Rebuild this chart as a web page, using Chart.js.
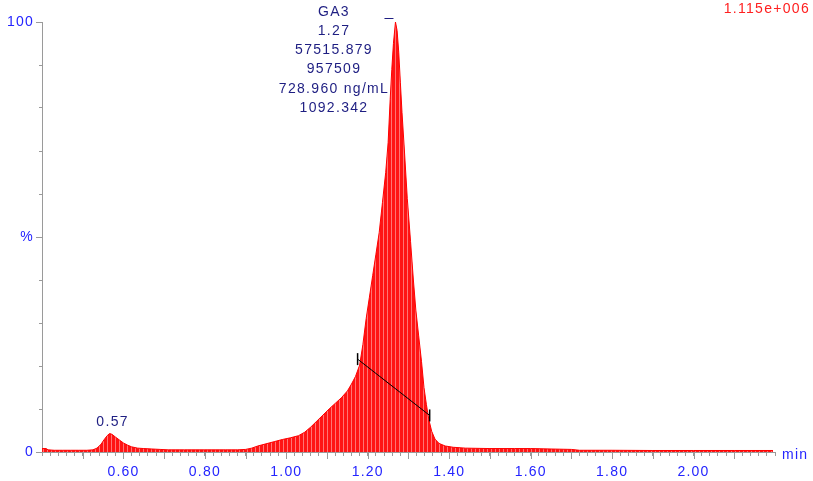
<!DOCTYPE html>
<html>
<head>
<meta charset="utf-8">
<script src="https://cdn.jsdelivr.net/npm/chart.js@4/dist/chart.umd.min.js"></script>
<style>
  html, body { margin: 0; padding: 0; background: #fff; }
</style>
</head>
<body>
<canvas id="chrom" width="813" height="481"></canvas>
<script>
// retention time (min) and relative intensity (%)
const TIMES = [
  0.400, 0.410, 0.415, 0.430, 0.450, 0.470, 0.490, 0.510, 0.525, 0.535,
  0.545, 0.552, 0.560, 0.566, 0.572, 0.580, 0.590, 0.600, 0.610, 0.620,
  0.635, 0.650, 0.670, 0.690, 0.710, 0.750, 0.800, 0.850, 0.880, 0.900,
  0.915, 0.930, 0.950, 0.970, 0.990, 1.010, 1.030, 1.045, 1.060, 1.075,
  1.090, 1.105, 1.120, 1.135, 1.150, 1.160, 1.170, 1.180, 1.188, 1.196,
  1.204, 1.212, 1.220, 1.228, 1.236, 1.244, 1.250, 1.255, 1.259, 1.263,
  1.268, 1.272, 1.276, 1.280, 1.284, 1.290, 1.297, 1.305, 1.312, 1.318,
  1.325, 1.332, 1.338, 1.344, 1.350, 1.357, 1.365, 1.375, 1.390, 1.410,
  1.440, 1.500, 1.560, 1.600, 1.650, 1.700, 1.720, 1.800, 1.900, 2.000,
  2.100, 2.195,
];
const INTENSITY = [
  0.8, 0.8, 0.5, 0.4, 0.4, 0.4, 0.4, 0.4, 0.5, 0.9,
  1.8, 2.8, 3.8, 4.3, 4.1, 3.5, 2.8, 2.1, 1.6, 1.2,
  0.9, 0.8, 0.7, 0.6, 0.5, 0.5, 0.5, 0.5, 0.5, 0.6,
  0.9, 1.4, 1.9, 2.4, 2.9, 3.3, 3.8, 4.6, 5.8, 7.2,
  8.6, 10.0, 11.3, 12.6, 14.2, 15.8, 17.6, 20.2, 25.0, 31.0,
  36.0, 41.0, 46.0, 51.0, 58.0, 65.0, 72.0, 82.0, 89.0, 95.0,
  100, 98, 93, 86, 79, 70, 59, 49, 40, 33,
  27, 21, 15, 11, 7.5, 4.8, 3.0, 2.0, 1.4, 1.1,
  0.9, 0.8, 0.8, 0.8, 0.7, 0.6, 0.4, 0.4, 0.35, 0.35,
  0.35, 0.35,
];

// integration baseline drawn under the main peak
const BASE_TIMES = [1.175, 1.352];
const BASE_LEVELS = [21.6, 8.5];

const PEAK_TIME = 1.268;
const PEAK_LABELS = ['GA3', '1.27', '57515.879', '957509', '728.960 ng/mL', '1092.342'];
const SMALL_PEAK = { time: 0.566, level: 4.3, label: '0.57' };
const X_LABELS = [0.6, 0.8, 1.0, 1.2, 1.4, 1.6, 1.8, 2.0];
const Y_LABELS = { 0: '0', 50: '%', 100: '100' };
const FULL_SCALE = '1.115e+006';

const BLUE = '#2424ff';
const NAVY = '#1e1e82';
const AXIS = '#9a9a9a';
const FONT = '14px "Liberation Sans", Arial, sans-serif';

function stripes(ctx) {
  const c = document.createElement('canvas');
  c.width = 4;
  c.height = 1;
  const g = c.getContext('2d');
  g.fillStyle = '#ff1414';
  g.fillRect(0, 0, 3, 1);
  g.fillStyle = '#ff7474';
  g.fillRect(3, 0, 1, 1);
  return ctx.createPattern(c, 'repeat');
}

const spacingPlugin = {
  id: 'spacing',
  beforeDraw(chart) {
    chart.ctx.letterSpacing = '1.2px';
  },
};

const marksPlugin = {
  id: 'marks',
  afterDraw(chart) {
    const { ctx, chartArea } = chart;
    const xs = chart.scales.x;
    const ys = chart.scales.y;
    ctx.save();
    ctx.strokeStyle = AXIS;
    ctx.lineWidth = 1;
    // longer ticks on every 0.1 min
    for (let t = 0.5; t < 2.2; t += 0.1) {
      const px = Math.round(xs.getPixelForValue(t)) + 0.5;
      ctx.beginPath();
      ctx.moveTo(px, chartArea.bottom);
      ctx.lineTo(px, chartArea.bottom + 7);
      ctx.stroke();
    }
    [0, 50, 100].forEach((v) => {
      const py = Math.round(ys.getPixelForValue(v)) + 0.5;
      ctx.beginPath();
      ctx.moveTo(chartArea.left - 6, py);
      ctx.lineTo(chartArea.left, py);
      ctx.stroke();
    });

    ctx.letterSpacing = '1.3px';
    ctx.font = FONT;
    ctx.textAlign = 'center';
    ctx.textBaseline = 'middle';
    ctx.fillStyle = NAVY;
    PEAK_LABELS.forEach((txt, i) => ctx.fillText(txt, 334, 12 + i * 19.2));

    // apex marker
    const apx = xs.getPixelForValue(PEAK_TIME);
    ctx.strokeStyle = NAVY;
    ctx.beginPath();
    ctx.moveTo(apx - 11, 18.5);
    ctx.lineTo(apx - 2, 18.5);
    ctx.stroke();

    ctx.fillText(SMALL_PEAK.label, xs.getPixelForValue(SMALL_PEAK.time) + 3, ys.getPixelForValue(SMALL_PEAK.level) - 11);

    ctx.fillStyle = BLUE;
    ctx.textAlign = 'left';
    ctx.fillText('min', 782, 455);

    ctx.fillStyle = '#ff2020';
    ctx.textAlign = 'right';
    ctx.fillText(FULL_SCALE, 810, 9);
    ctx.restore();
  },
};

new Chart(document.getElementById('chrom'), {
  type: 'line',
  data: {
    datasets: [
      {
        label: 'baseline',
        data: BASE_TIMES.map((t, i) => ({ x: t, y: BASE_LEVELS[i] })),
        borderColor: '#000',
        borderWidth: 1,
        pointStyle: 'line',
        rotation: 90,
        pointRadius: 6,
        pointBorderColor: '#000',
        pointBorderWidth: 1.5,
        fill: false,
        order: 0,
      },
      {
        label: 'GA3',
        data: TIMES.map((t, i) => ({ x: t, y: INTENSITY[i] })),
        borderColor: '#ff0000',
        borderWidth: 1,
        backgroundColor: (c) => stripes(c.chart.ctx),
        fill: 'origin',
        pointRadius: 0,
        tension: 0,
        order: 1,
      },
    ],
  },
  options: {
    responsive: false,
    animation: false,
    layout: { padding: { top: 22, right: 38, left: 0, bottom: 0 } },
    plugins: { legend: { display: false }, tooltip: { enabled: false } },
    scales: {
      x: {
        type: 'linear',
        min: 0.4,
        max: 2.2,
        afterFit: (s) => { s.height = 29; },
        border: { color: AXIS },
        grid: { drawOnChartArea: false, tickLength: 4, color: AXIS },
        ticks: {
          stepSize: 0.02,
          autoSkip: false,
          maxRotation: 0,
          padding: 8,
          color: BLUE,
          font: { family: '"Liberation Sans", Arial, sans-serif', size: 14 },
          callback: (v) => (X_LABELS.some((l) => Math.abs(l - v) < 1e-6) ? v.toFixed(2) : ''),
        },
      },
      y: {
        min: 0,
        max: 100,
        afterFit: (s) => { s.width = 42; },
        border: { color: AXIS },
        grid: { drawOnChartArea: false, tickLength: 3, color: AXIS },
        ticks: {
          stepSize: 10,
          padding: 5,
          color: BLUE,
          font: { family: '"Liberation Sans", Arial, sans-serif', size: 14 },
          callback: (v) => Y_LABELS[v] ?? '',
        },
      },
    },
  },
  plugins: [spacingPlugin, marksPlugin],
});
</script>
</body>
</html>
